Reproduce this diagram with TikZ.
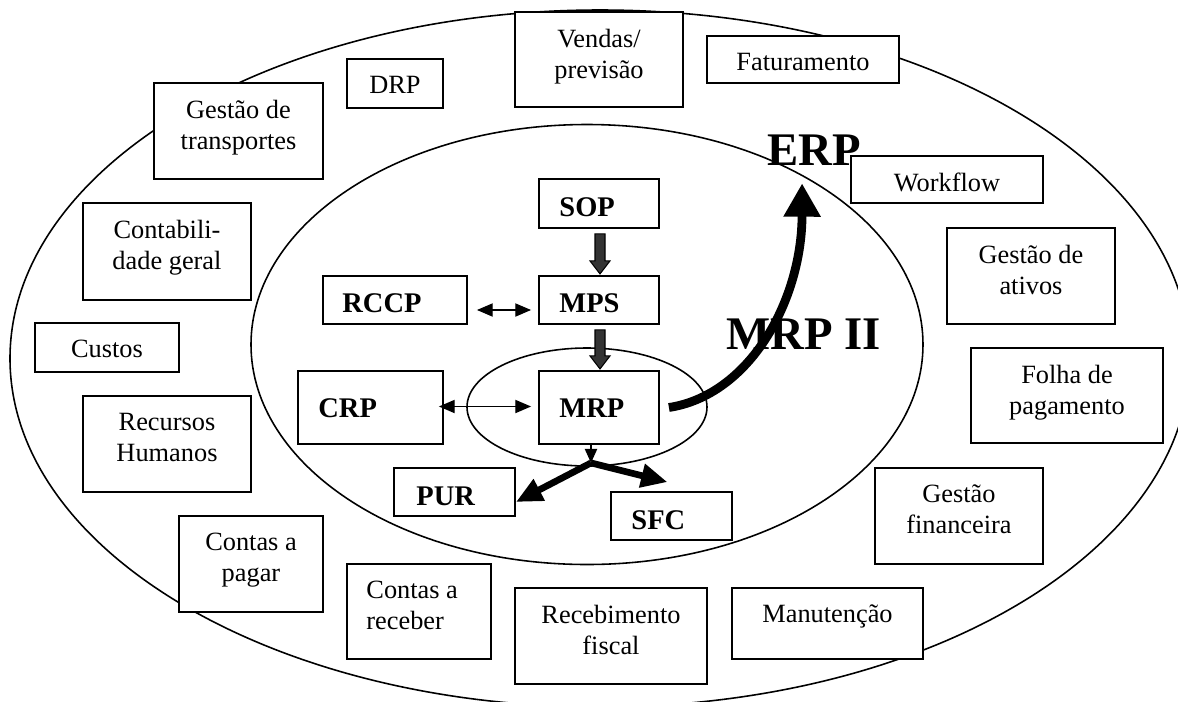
\documentclass[tikz,border=0pt]{standalone}
\usepackage{fontspec}
\setmainfont{Liberation Serif}
\usepackage{tikz}
\usetikzlibrary{positioning,calc,fit,arrows.meta}

\definecolor{arrowgray}{HTML}{333333}

\begin{document}
\begin{tikzpicture}[x = 0.02cm, y = -0.02cm,
	modbox/.style = {draw, fill = white, line width = 1.05pt, inner sep = 0pt},
	modtext/.style = {anchor = north, align = center, inner sep = 0pt, font = \fontsize{15}{17.6}\selectfont},
	corelabel/.style = {anchor = base west, inner sep = 0pt, font = \bfseries\fontsize{16.2}{19}\selectfont},
	biglabel/.style = {anchor = base west, inner sep = 0pt, font = \bfseries\fontsize{26.6}{30}\selectfont},
	ring/.style = {draw, line width = 0.9pt},
	blockarrow/.style = {draw = black, fill = arrowgray, line width = 0.6pt},
	twoway/.style = {line width = 0.8pt, {Triangle[length = 9pt, width = 7.5pt]}-{Triangle[length = 9pt, width = 7.5pt]}},
	oneway/.style = {line width = 0.8pt, -{Triangle[length = 8pt, width = 7pt]}},
	forkarrow/.style = {line width = 3.8pt, -{Triangle[length = 15pt, width = 13pt]}},
	curvearrow/.style = {line width = 5pt, -{Triangle[length = 19pt, width = 20pt]}}]

\clip (0, 0) rectangle (1178, 701);

\begin{scope}
	\draw[ring] (600, 358.5) ellipse [x radius = 590, y radius = 348.5];
	\draw[ring] (587, 344.5) ellipse [x radius = 336, y radius = 220];
	\draw[ring] (587, 407) ellipse [x radius = 120, y radius = 59];
\end{scope}

\begin{scope}
	\foreach \name/\xa/\ya/\xb/\yb/\txt in {
		vendas/515/12/683/107/{Vendas/\\previsão},
		fatur/707/36/899/83/{Faturamento},
		drp/347/59/443/108/{DRP},
		transp/154/83/323/179/{Gestão de\\transportes},
		contab/83/203/251/300/{Contabili-\\dade geral},
		custos/35/323/179/372/{Custos},
		rh/83/396/251/492/{Recursos\\Humanos},
		pagar/179/516/323/612/{Contas a\\pagar},
		receb/515/588/707/684/{Recebimento\\fiscal},
		manut/732/588/923/659/{Manutenção},
		financ/875/468/1043/564/{Gestão\\financeira},
		folha/971/348/1163/443/{Folha de\\pagamento},
		ativos/947/228/1115/324/{Gestão de\\ativos},
		workflow/851/156/1043/203/{Workflow}} {
		\node[modbox, fit = {(\xa, \ya) (\xb, \yb)}] (\name) {};
		\node[modtext] (\name-t) at ($(\name.north) + (0, 17.5)$) {\txt};
	}

	\node[modbox, fit = {(347, 564) (491, 659)}] (receber) {};
	\node[modtext, anchor = north west, align = left] (receber-t) at ($(receber.north west) + (20, 17.5)$) {Contas a\\receber};
\end{scope}

\begin{scope}
	\foreach \name/\xa/\ya/\xb/\yb/\dx/\dy/\txt in {
		sop/539/179/659/228/21/38/SOP,
		mps/539/276/659/324/21/37/MPS,
		rccp/323/276/467/324/20/37/RCCP,
		mrp/539/371/659/444/21/47/MRP,
		crp/298/371/443/444/21/47/CRP,
		pur/394/468/515/516/23/38/PUR,
		sfc/611/492/732/540/21/38/SFC} {
		\node[modbox, fit = {(\xa, \ya) (\xb, \yb)}] (\name) {};
		\node[corelabel] (\name-t) at ($(\name.north west) + (\dx, \dy)$) {\txt};
	}

	\node[biglabel] (erp) at (767, 165) {ERP};
	\node[biglabel] (mrpii) at (726, 349) {MRP II};
\end{scope}

\filldraw[blockarrow] ($(sop.south) + (-4, 5)$) -- ++(10, 0) -- ++(0, 27) -- ++(5, 0) -- ++(-10, 13) -- ++(-10, -13) -- ++(5, 0) -- cycle;
\filldraw[blockarrow] ($(mps.south) + (-4, 5)$) -- ++(10, 0) -- ++(0, 26) -- ++(5, 0) -- ++(-10, 13) -- ++(-10, -13) -- ++(5, 0) -- cycle;

\draw[twoway] ($(rccp.east) + (9, 10)$) -- ($(mps.west) + (-7, 10)$);
\draw[twoway] ($(crp.east) + (-5, -1)$) -- ($(mrp.west) + (-7, -1)$);

\coordinate (fork) at ($(mrp.south) + (-8, 18)$);
\draw[oneway] ($(mrp.south) + (-8, 0)$) -- (fork);
\draw[forkarrow] (fork) -- ($(pur.east) + (0, 10)$);
\draw[forkarrow] (fork) -- ($(sfc.north) + (-4, -9)$);

\draw[curvearrow] ($(mrp.east) + (9, 0)$) .. controls (750, 395) and (802, 300) .. ($(erp.south) + (-12, 18)$);

\end{tikzpicture}
\end{document}
